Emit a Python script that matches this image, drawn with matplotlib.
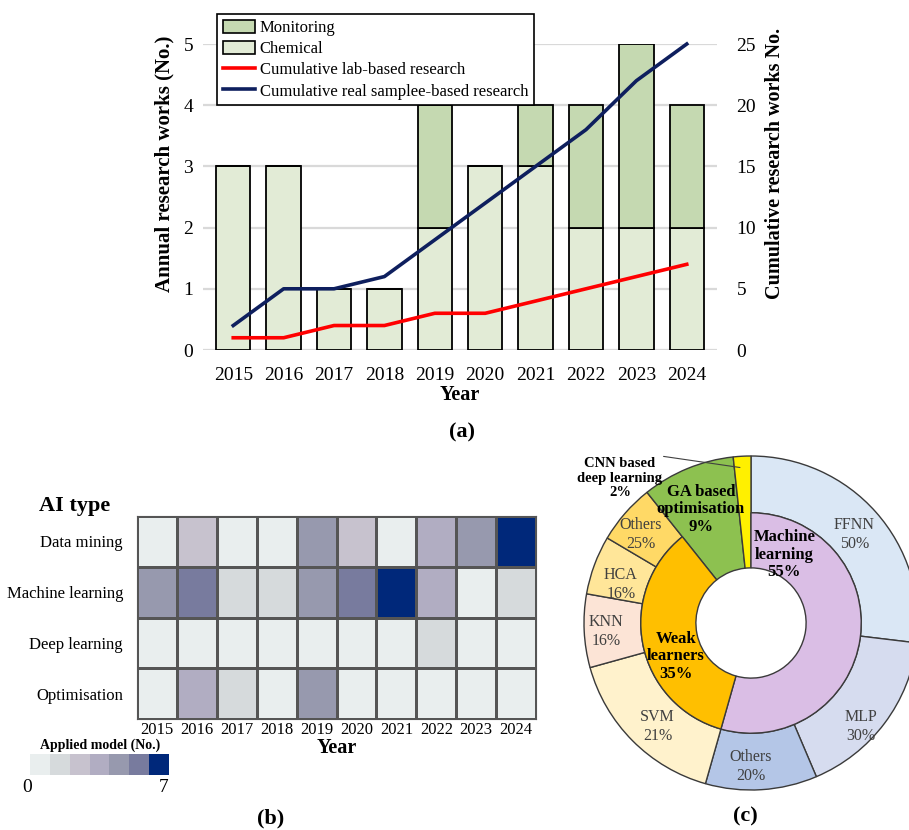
import matplotlib
matplotlib.use('Agg')
import matplotlib.pyplot as plt
import numpy as np
from matplotlib.colors import ListedColormap, BoundaryNorm
from matplotlib.patches import Patch
from matplotlib.lines import Line2D

plt.rcParams['font.family'] = ['Liberation Serif', 'DejaVu Serif']

# ---------------- data ----------------
years = [2015, 2016, 2017, 2018, 2019, 2020, 2021, 2022, 2023, 2024]
chemical = [3, 3, 1, 1, 2, 3, 3, 2, 2, 2]
monitoring = [0, 0, 0, 0, 2, 0, 1, 2, 3, 2]
cum_lab = [1, 1, 2, 2, 3, 3, 4, 5, 6, 7]
cum_real = [2, 5, 5, 6, 9, 12, 15, 18, 22, 25]

ai_types = ['Data mining', 'Machine learning', 'Deep learning', 'Optimisation']
data_mining = [0, 2, 0, 0, 4, 2, 0, 3, 4, 7]
machine_learning = [4, 5, 1, 1, 4, 5, 7, 3, 0, 1]
deep_learning = [0, 0, 0, 0, 0, 0, 0, 1, 0, 0]
optimisation = [0, 3, 1, 0, 4, 0, 0, 0, 0, 0]
heat_colors = ['#E9EEEE', '#D6DADC', '#C7C2CE', '#B1ADC2', '#9799AE', '#787B9E', '#00287A']

outer_labels = ['FFNN\n50%', 'MLP\n30%', 'Others\n20%', 'SVM\n21%', 'KNN\n16%',
                'HCA\n16%', 'Others\n25%', '', '']
outer_vals = [26.9, 16.7, 10.8, 16.3, 7.1, 5.7, 5.8, 9.0, 1.7]
outer_colors = ['#DAE7F5', '#D6DCEF', '#B4C6E7', '#FFF2CC', '#FCE4D6',
                '#FFE699', '#FFD966', '#8DC150', '#FFF000']
inner_labels = ['Machine\nlearning\n55%', 'Weak\nlearners\n35%']
inner_colors = ['#DABEE5', '#FFBF00']

W, H = 909, 830
fig = plt.figure(figsize=(W / 100, H / 100), dpi=100)


def px_axes(x0, y0, x1, y1):
    return fig.add_axes([x0 / W, 1 - y1 / H, (x1 - x0) / W, (y1 - y0) / H])


# ---------------- (a) ----------------
ax = px_axes(203, 44, 717, 350)
x = np.arange(len(years))
ax.bar(x, chemical, width=0.68, color='#E2EBD6', edgecolor='black', linewidth=1.3, zorder=2)
ax.bar(x, monitoring, bottom=chemical, width=0.68, color='#C5D9B1', edgecolor='black',
       linewidth=1.3, zorder=2)
ax.set_xlim(-0.6, 9.6)
ax.set_ylim(0, 5)
ax.set_yticks(range(6))
ax.set_xticks(x)
ax.set_xticklabels([str(y) for y in years], fontsize=14)
ax.yaxis.grid(True, color='#D9D9D9', linewidth=1.6)
ax.set_axisbelow(True)
for s in ax.spines.values():
    s.set_visible(False)
ax.tick_params(axis='both', length=0, labelsize=14)
ax.tick_params(axis='x', pad=12)
ax.tick_params(axis='y', pad=7)
ax.set_xlabel('Year', fontsize=14.5, fontweight='bold', labelpad=1)
ax.set_ylabel('Annual research works (No.)', fontsize=15, fontweight='bold')
ax.yaxis.set_label_coords(-0.055, 0.61)

ax2 = ax.twinx()
ax2.plot(x, cum_lab, color='#FF0000', linewidth=2.6, clip_on=False)
ax2.plot(x, cum_real, color='#0E1F5E', linewidth=2.6, clip_on=False)
ax2.set_ylim(0, 25)
ax2.set_yticks(range(0, 26, 5))
for s in ax2.spines.values():
    s.set_visible(False)
ax2.tick_params(axis='y', length=0, labelsize=14, pad=14)
ax2.set_ylabel('Cumulative research works No.', fontsize=14.5, fontweight='bold')
ax2.yaxis.set_label_coords(1.093, 0.61)

handles = [Patch(facecolor='#C5D9B1', edgecolor='black', linewidth=1.2),
           Patch(facecolor='#E2EBD6', edgecolor='black', linewidth=1.2),
           Line2D([], [], color='#FF0000', linewidth=2.6),
           Line2D([], [], color='#0E1F5E', linewidth=2.6)]
leg = ax2.legend(handles, ['Monitoring', 'Chemical', 'Cumulative lab-based research',
                           'Cumulative real samplee-based research'],
                 loc='upper left', bbox_to_anchor=(217 / W, 1 - 14 / H),
                 bbox_transform=fig.transFigure, fontsize=12, fancybox=False,
                 edgecolor='black', framealpha=1, handlelength=1.9, handleheight=0.8,
                 labelspacing=0.3, borderpad=0.35, handletextpad=0.3, borderaxespad=0)
leg.get_frame().set_linewidth(1.2)

fig.text(462 / W, 1 - 432 / H, '(a)', fontsize=16, fontweight='bold', ha='center', va='center')

# ---------------- (b) ----------------
cmap = ListedColormap(heat_colors)
norm = BoundaryNorm([0, 1, 2, 3, 4, 5, 6, 8], ncolors=7)
axh = px_axes(137, 516, 536, 719)
heat = np.array([data_mining, machine_learning, deep_learning, optimisation])
axh.pcolormesh(heat, cmap=cmap, norm=norm, edgecolors='#555555', linewidth=1)
axh.set_ylim(len(ai_types), 0)
axh.set_xlim(0, len(years))
axh.set_xticks(np.arange(len(years)) + 0.5)
axh.set_xticklabels([str(y) for y in years], fontsize=12)
axh.set_yticks(np.arange(len(ai_types)) + 0.5)
axh.set_yticklabels(ai_types, fontsize=12)
axh.tick_params(length=0)
axh.tick_params(axis='x', pad=2)
axh.tick_params(axis='y', pad=10)
for s in axh.spines.values():
    s.set_color('#555555')
axh.set_xlabel('Year', fontsize=14.5, fontweight='bold', labelpad=0)
fig.text(39 / W, 1 - 506 / H, 'AI type', fontsize=16, fontweight='bold', ha='left', va='center')

fig.text(100 / W, 1 - 745 / H, 'Applied model (No.)', fontsize=10, fontweight='bold',
         ha='center', va='center')
axc = px_axes(30, 754, 168, 775)
axc.imshow(np.arange(len(heat_colors))[None, :], cmap=cmap, aspect='auto',
           vmin=-0.5, vmax=len(heat_colors) - 0.5)
axc.set_axis_off()
fig.text(27 / W, 1 - 787 / H, '0', fontsize=14, ha='center', va='center')
fig.text(164 / W, 1 - 787 / H, '7', fontsize=14, ha='center', va='center')
fig.text(271 / W, 1 - 818 / H, '(b)', fontsize=16, fontweight='bold', ha='center', va='center')

# ---------------- (c) ----------------
cx, cy, R = 751, 623, 167
half = 1.02 * R
axd = px_axes(cx - half, cy - half, cx + half, cy + half)
r_hole, r_mid = 0.33, 0.66
wedges, _ = axd.pie(outer_vals, radius=1, colors=outer_colors, startangle=90,
                    counterclock=False,
                    wedgeprops=dict(width=1 - r_mid, edgecolor='#3A3A3A', linewidth=1))
for w in wedges[-2:]:
    w.set_width(1 - r_hole)
inner_vals = [sum(outer_vals[:3]) / 100, sum(outer_vals[3:7]) / 100]
axd.pie(inner_vals, radius=r_mid, colors=inner_colors, startangle=90, counterclock=False,
        normalize=False, wedgeprops=dict(width=r_mid - r_hole, edgecolor='#3A3A3A', linewidth=1))
axd.set_xlim(-1.02, 1.02)
axd.set_ylim(-1.02, 1.02)
axd.set_aspect('auto')
axd.set_axis_off()

outer_pos = [(0.62, 0.53), (0.66, -0.62), (0.0, -0.86), (-0.56, -0.62), (-0.87, -0.05),
             (-0.78, 0.23), (-0.66, 0.53)]
for lab, (tx, ty) in zip(outer_labels, outer_pos):
    axd.text(tx, ty, lab, fontsize=11.5, color='#404040', ha='center', va='center',
             linespacing=1.25)
axd.text(0.2, 0.41, inner_labels[0], fontsize=12, fontweight='bold', ha='center',
         va='center', linespacing=1.1)
axd.text(-0.45, -0.2, inner_labels[1], fontsize=12, fontweight='bold', ha='center',
         va='center', linespacing=1.15)
axd.text(-0.3, 0.68, 'GA based\noptimisation\n9%', fontsize=12, fontweight='bold',
         ha='center', va='center', linespacing=1.1)
# leader line for CNN wedge
mid_deg = 360 - (outer_vals[-1] / 2) * 3.6
ang = np.deg2rad(mid_deg)
tip = (0.93 * np.sin(ang), 0.93 * np.cos(ang))
axd.annotate('', xy=tip, xytext=(-0.54, 1.0), xycoords='data',
             arrowprops=dict(arrowstyle='-', color='#404040', linewidth=0.8),
             annotation_clip=False)
fig.text(620 / W, 1 - 478 / H, 'CNN based\ndeep learning\n2%', fontsize=10.5,
         fontweight='bold', ha='center', va='center', linespacing=1.15)
fig.text(745 / W, 1 - 816 / H, '(c)', fontsize=16, fontweight='bold', ha='center', va='center')

fig.savefig('out.png', dpi=100)
